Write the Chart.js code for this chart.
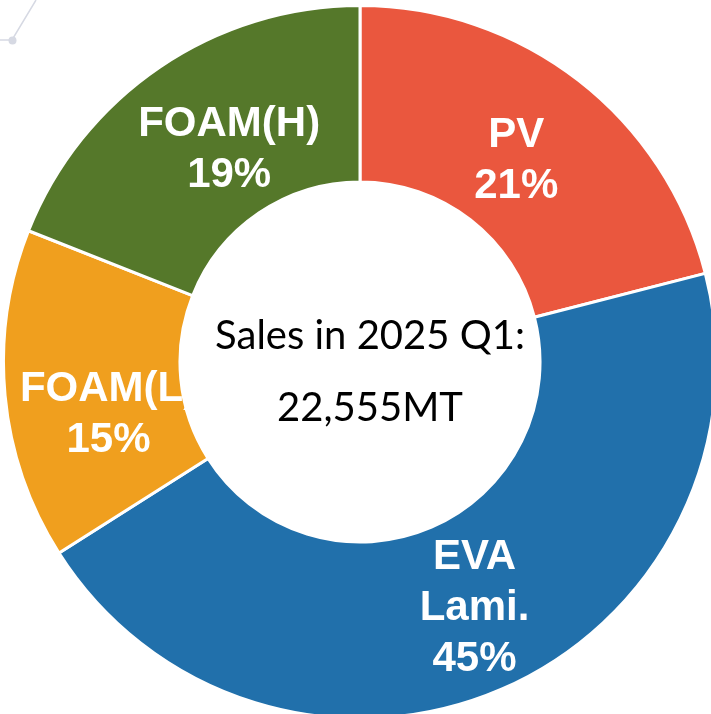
<!DOCTYPE html>
<html>
<head>
<meta charset="utf-8">
<script src="https://cdn.jsdelivr.net/npm/chart.js@4.4.1/dist/chart.umd.min.js"></script>
<style>
  html, body { margin: 0; padding: 0; background: #ffffff; overflow: hidden; width: 711px; height: 714px; }
  #wrap { position: absolute; left: 0; top: 0; width: 720px; height: 724px; }
</style>
</head>
<body>
<div id="wrap"><canvas id="c" width="720" height="724"></canvas></div>
<script>
// ---- data ----
const categories = ["PV", "EVA Lami.", "FOAM(L)", "FOAM(H)"];
const labelLines = [["PV"], ["EVA", "Lami."], ["FOAM(L)"], ["FOAM(H)"]];
const shares = [21, 45, 15, 19];
const centerLines = ["Sales in 2025 Q1:", "22,555MT"];
const colors = ["#EA573E", "#2170AB", "#F09F1E", "#55782A"];

const sliceLabels = {
  id: 'sliceLabels',
  afterDatasetsDraw(chart, args, opts) {
    const ctx = chart.ctx;
    const meta = chart.getDatasetMeta(0);
    const arc0 = meta.data[0];
    const cx = arc0.x, cy = arc0.y;
    const outer = arc0.outerRadius, inner = arc0.innerRadius;
    ctx.save();
    ctx.beginPath();
    ctx.arc(cx, cy, outer, 0, Math.PI * 2);
    ctx.arc(cx, cy, inner, 0, Math.PI * 2, true);
    ctx.clip('evenodd');
    ctx.fillStyle = '#ffffff';
    ctx.font = opts.font;
    ctx.textAlign = 'center';
    ctx.textBaseline = 'middle';
    meta.data.forEach((arc, i) => {
      const mid = (arc.startAngle + arc.endAngle) / 2 + (opts.angleAdj[i] || 0) * Math.PI / 180;
      const r = opts.radius[i];
      const x = cx + Math.cos(mid) * r;
      const y = cy + Math.sin(mid) * r;
      const lines = labelLines[i].concat([shares[i] + '%']);
      const lh = opts.lineHeight;
      const top = y - (lines.length - 1) * lh / 2;
      lines.forEach((t, k) => ctx.fillText(t, x, top + k * lh));
    });
    ctx.restore();

    // center text
    ctx.save();
    ctx.fillStyle = '#000000';
    ctx.font = opts.centerFont;
    ctx.textAlign = 'center';
    ctx.textBaseline = 'middle';
    const clh = opts.centerLineHeight;
    const ctop = cy + opts.centerOffset - (centerLines.length - 1) * clh / 2;
    centerLines.forEach((t, k) => ctx.fillText(t, cx + opts.centerShiftX, ctop + k * clh));
    ctx.restore();
  },
  afterDraw(chart) {
    // faint decorative connector in the top-left corner
    const ctx = chart.ctx;
    ctx.save();
    ctx.strokeStyle = '#D6D9E3';
    ctx.fillStyle = '#D6D9E3';
    ctx.lineWidth = 1.5;
    ctx.beginPath();
    ctx.moveTo(0, 40);
    ctx.lineTo(12, 40);
    ctx.lineTo(36, 0);
    ctx.stroke();
    ctx.beginPath();
    ctx.arc(12.5, 40.5, 4, 0, Math.PI * 2);
    ctx.fill();
    ctx.restore();
  }
};

new Chart(document.getElementById('c'), {
  type: 'doughnut',
  data: {
    labels: categories,
    datasets: [{
      data: shares,
      backgroundColor: colors,
      borderColor: '#ffffff',
      borderWidth: 3,
      hoverOffset: 0
    }]
  },
  options: {
    responsive: false,
    animation: false,
    cutout: '50.5%',
    rotation: 0,
    layout: { padding: { left: 2, top: 4, right: 2, bottom: 4 } },
    plugins: {
      legend: { display: false },
      tooltip: { enabled: false },
      sliceLabels: {
        font: 'bold 42px "Liberation Sans", Arial, sans-serif',
        lineHeight: 51,
        radius: [255, 272, 257, 249],
        angleAdj: [0, -1.5, -6.5, 2.5],
        centerFont: '40px Lato, "Open Sans", sans-serif',
        centerLineHeight: 72,
        centerOffset: 10,
        centerShiftX: 10
      }
    }
  },
  plugins: [sliceLabels]
});
</script>
</body>
</html>
